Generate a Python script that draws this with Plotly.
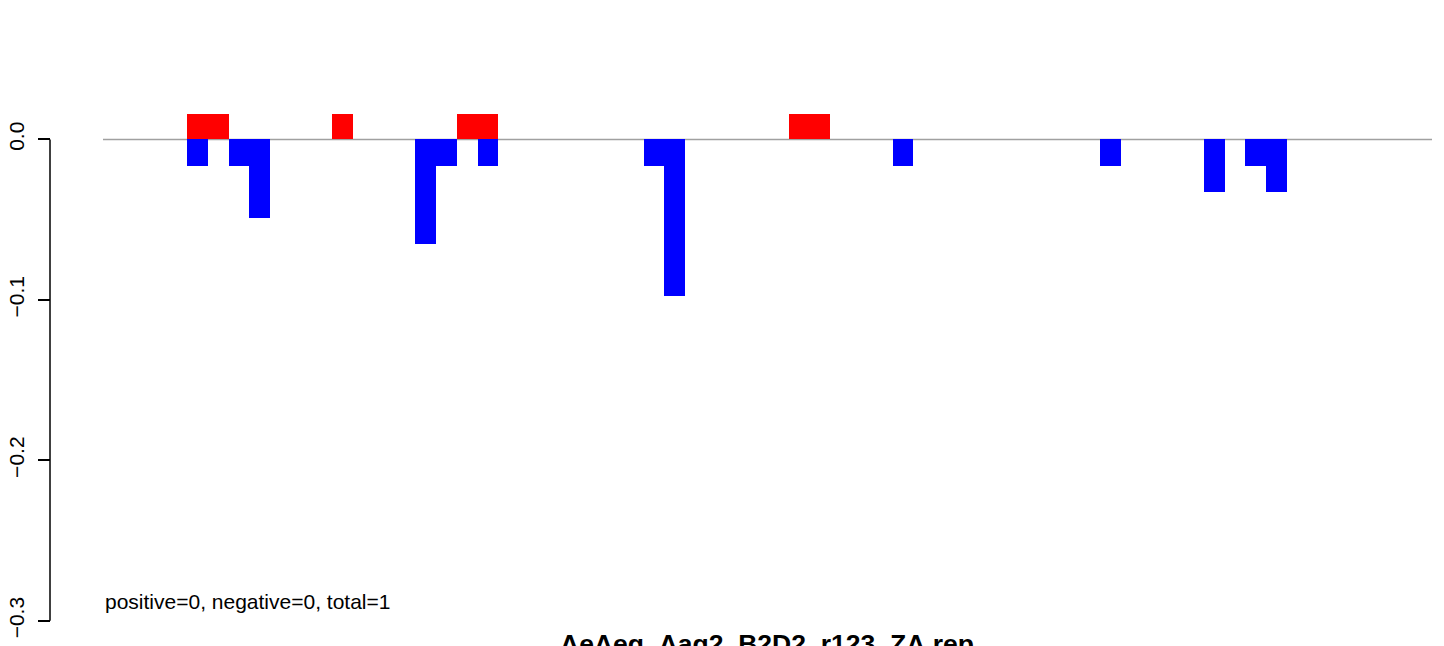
import plotly.graph_objects as go

# read positions (1-based) and heights off the reference
red_pos = [1, 2, 8, 14, 15, 30, 31]
red_vals = [0.0158, 0.0158, 0.0158, 0.0158, 0.0158, 0.0158, 0.0158]

blue_pos = [1, 3, 4, 12, 13, 15, 23, 24, 35, 45, 50, 52, 53]
blue_vals = [-0.0163, -0.0163, -0.0489, -0.0652, -0.0163, -0.0163, -0.0163,
             -0.0978, -0.0163, -0.0163, -0.0326, -0.0163, -0.0326]

y_ticks = [0.0, -0.1, -0.2, -0.3]
y_tick_labels = ["0.0", "\u22120.1", "\u22120.2", "\u22120.3"]

TITLE = "AeAeg_Aag2_B2D2_r123_ZA.rep"
NOTE = "positive=0, negative=0, total=1"
FONT = "Liberation Sans, Arial, Helvetica, sans-serif"

fig = go.Figure()
fig.add_trace(go.Bar(x=red_pos, y=red_vals, width=1, marker=dict(color="#FF0000", line=dict(width=0))))
fig.add_trace(go.Bar(x=blue_pos, y=blue_vals, width=1, marker=dict(color="#0000FF", line=dict(width=0))))

# zero line across the plot region
fig.add_shape(type="line", xref="x domain", yref="y", x0=0, x1=1, y0=0, y1=0,
              line=dict(color="#A0A0A0", width=1.5), layer="below")
# R-style axis line only spanning the ticks
fig.add_shape(type="line", xref="paper", yref="y", x0=0, x1=0, y0=y_ticks[-1], y1=y_ticks[0],
              line=dict(color="black", width=1.5))

fig.add_annotation(text=NOTE, xref="x domain", yref="y", x=0, y=-0.288,
                   xanchor="left", yanchor="middle", showarrow=False,
                   font=dict(family=FONT, size=21, color="black"))
fig.add_annotation(text="<b>" + TITLE + "</b>", xref="x domain", yref="paper", x=0.5, y=0.024,
                   xanchor="center", yanchor="top", showarrow=False,
                   font=dict(family=FONT, size=26.5, color="black"))

# the html page body adds an 8px offset, so margins are shifted to compensate
fig.update_layout(
    barmode="relative",
    bargap=0,
    showlegend=False,
    width=1444,
    height=646,
    margin=dict(l=42, r=20, t=86, b=14, autoexpand=False),
    paper_bgcolor="white",
    plot_bgcolor="white",
    font=dict(family=FONT, size=21, color="black"),
    xaxis=dict(domain=[0.03835, 1], range=[-3.55, 60.5], visible=False, showgrid=False,
               zeroline=False, automargin=False),
    yaxis=dict(
        range=[-0.312, 0.0283],
        anchor="free",
        position=0,
        automargin=False,
        tickvals=y_ticks,
        ticktext=y_tick_labels,
        tickangle=-90,
        ticks="outside",
        ticklen=12,
        tickwidth=1.5,
        tickcolor="black",
        ticklabelstandoff=6,
        showline=False,
        showgrid=False,
        zeroline=False,
    ),
)

fig.write_html("out.html")
